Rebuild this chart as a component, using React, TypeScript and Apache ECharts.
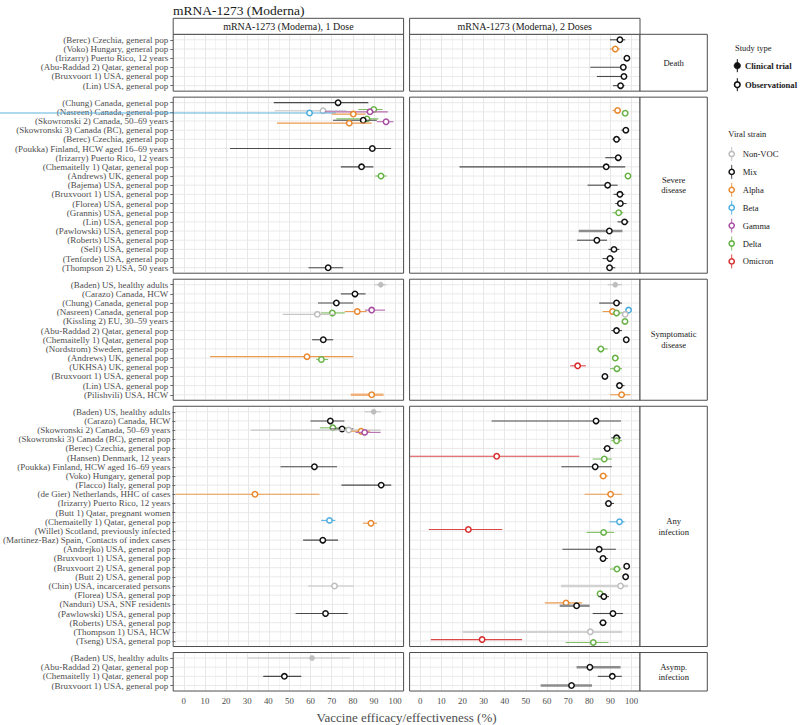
import React, { useEffect, useRef } from "react";
import * as echarts from "echarts";

// ---------------- data ----------------
const chartTitle = "mRNA-1273 (Moderna)";
const doseLabels = ["mRNA-1273 (Moderna), 1 Dose", "mRNA-1273 (Moderna), 2 Doses"];
const outcomeLabels = ["Death", "Severe\ndisease", "Symptomatic\ndisease", "Any\ninfection", "Asymp.\ninfection"];
const strains = ["Non-VOC", "Mix", "Alpha", "Beta", "Gamma", "Delta", "Omicron"];
const studyTypes = ["Clinical trial", "Observational"];
const xTickValues = [0, 10, 20, 30, 40, 50, 60, 70, 80, 90, 100];
const xAxisTitle = "Vaccine efficacy/effectiveness (%)";
const clinicalTrialStudies = ["(Baden) US, healthy adults"];

const deathStudies = [
  "(Berec) Czechia, general pop",
  "(Voko) Hungary, general pop",
  "(Irizarry) Puerto Rico, 12 years",
  "(Abu-Raddad 2) Qatar, general pop",
  "(Bruxvoort 1) USA, general pop",
  "(Lin) USA, general pop",
];
const severeStudies = [
  "(Chung) Canada, general pop",
  "(Nasreen) Canada, general pop",
  "(Skowronski 2) Canada, 50–69 years",
  "(Skowronski 3) Canada (BC), general pop",
  "(Berec) Czechia, general pop",
  "(Poukka) Finland, HCW aged 16–69 years",
  "(Irizarry) Puerto Rico, 12 years",
  "(Chemaitelly 1) Qatar, general pop",
  "(Andrews) UK, general pop",
  "(Bajema) USA, general pop",
  "(Bruxvoort 1) USA, general pop",
  "(Florea) USA, general pop",
  "(Grannis) USA, general pop",
  "(Lin) USA, general pop",
  "(Pawlowski) USA, general pop",
  "(Roberts) USA, general pop",
  "(Self) USA, general pop",
  "(Tenforde) USA, general pop",
  "(Thompson 2) USA, 50 years",
];
const symptomaticStudies = [
  "(Baden) US, healthy adults",
  "(Carazo) Canada, HCW",
  "(Chung) Canada, general pop",
  "(Nasreen) Canada, general pop",
  "(Kissling 2) EU, 30–59 years",
  "(Abu-Raddad 2) Qatar, general pop",
  "(Chemaitelly 1) Qatar, general pop",
  "(Nordstrom) Sweden, general pop",
  "(Andrews) UK, general pop",
  "(UKHSA) UK, general pop",
  "(Bruxvoort 1) USA, general pop",
  "(Lin) USA, general pop",
  "(Pilishvili) USA, HCW",
];
const anyInfectionStudies = [
  "(Baden) US, healthy adults",
  "(Carazo) Canada, HCW",
  "(Skowronski 2) Canada, 50–69 years",
  "(Skowronski 3) Canada (BC), general pop",
  "(Berec) Czechia, general pop",
  "(Hansen) Denmark, 12 years",
  "(Poukka) Finland, HCW aged 16–69 years",
  "(Voko) Hungary, general pop",
  "(Flacco) Italy, general pop",
  "(de Gier) Netherlands, HHC of cases",
  "(Irizarry) Puerto Rico, 12 years",
  "(Butt 1) Qatar, pregnant women",
  "(Chemaitelly 1) Qatar, general pop",
  "(Willet) Scotland, previously infected",
  "(Martinez-Baz) Spain, Contacts of index cases",
  "(Andrejko) USA, general pop",
  "(Bruxvoort 1) USA, general pop",
  "(Bruxvoort 2) USA, general pop",
  "(Butt 2) USA, general pop",
  "(Chin) USA, incarcerated persons",
  "(Florea) USA, general pop",
  "(Nanduri) USA, SNF residents",
  "(Pawlowski) USA, general pop",
  "(Roberts) USA, general pop",
  "(Thompson 1) USA, HCW",
  "(Tseng) USA, general pop",
];
const asympStudies = [
  "(Baden) US, healthy adults",
  "(Abu-Raddad 2) Qatar, general pop",
  "(Chemaitelly 1) Qatar, general pop",
  "(Bruxvoort 1) USA, general pop",
];

type Est = [string, string, number, number, number]; // study, strain, estimate, lower, upper

const death1: Est[] = [];
const death2: Est[] = [
  ["(Berec) Czechia, general pop", "Mix", 94.5, 89.8, 97],
  ["(Voko) Hungary, general pop", "Alpha", 92.3, 89.8, 94.5],
  ["(Irizarry) Puerto Rico, 12 years", "Mix", 97.8, 97, 98.5],
  ["(Abu-Raddad 2) Qatar, general pop", "Mix", 96.1, 80.5, 97.4],
  ["(Bruxvoort 1) USA, general pop", "Mix", 96.4, 83.6, 97.4],
  ["(Lin) USA, general pop", "Mix", 94.8, 91.2, 96.7],
];

const severe1: Est[] = [
  ["(Chung) Canada, general pop", "Mix", 73, 42.6, 87.3],
  ["(Nasreen) Canada, general pop", "Delta", 89.9, 82.6, 94],
  ["(Nasreen) Canada, general pop", "Non-VOC", 65.9, 43, 77],
  ["(Nasreen) Canada, general pop", "Gamma", 88.1, 66.7, 96.5],
  ["(Nasreen) Canada, general pop", "Beta", 59.5, -90, 72],
  ["(Nasreen) Canada, general pop", "Alpha", 80.2, 70, 86],
  ["(Skowronski 2) Canada, 50–69 years", "Delta", 86.7, 72.2, 92.1],
  ["(Skowronski 2) Canada, 50–69 years", "Mix", 84.9, 70.6, 91.3],
  ["(Skowronski 2) Canada, 50–69 years", "Gamma", 95.7, 91.3, 99.2],
  ["(Skowronski 2) Canada, 50–69 years", "Alpha", 78.3, 44.1, 88.9],
  ["(Poukka) Finland, HCW aged 16–69 years", "Mix", 89.2, 21.9, 98.1],
  ["(Chemaitelly 1) Qatar, general pop", "Mix", 84.1, 74.3, 89.7],
  ["(Andrews) UK, general pop", "Delta", 93.3, 90.5, 96],
  ["(Thompson 2) USA, 50 years", "Mix", 68.3, 59, 75.4],
];
const severe2: Est[] = [
  ["(Nasreen) Canada, general pop", "Alpha", 93.4, 91, 95],
  ["(Nasreen) Canada, general pop", "Delta", 97, 96, 98],
  ["(Skowronski 3) Canada (BC), general pop", "Mix", 97.3, 95.2, 98.3],
  ["(Berec) Czechia, general pop", "Mix", 92.9, 91, 95],
  ["(Irizarry) Puerto Rico, 12 years", "Mix", 93.7, 87.6, 95.5],
  ["(Chemaitelly 1) Qatar, general pop", "Mix", 88, 18.6, 97],
  ["(Andrews) UK, general pop", "Delta", 98.3, 97.5, 99],
  ["(Bajema) USA, general pop", "Mix", 88.7, 79.2, 93.4],
  ["(Bruxvoort 1) USA, general pop", "Mix", 94.5, 91.5, 96.6],
  ["(Florea) USA, general pop", "Mix", 94.7, 92.3, 97.6],
  ["(Grannis) USA, general pop", "Delta", 93.9, 91, 96.1],
  ["(Lin) USA, general pop", "Mix", 96.7, 93.4, 98.6],
  ["(Pawlowski) USA, general pop", "Mix", 89.5, 75, 95.7],
  ["(Roberts) USA, general pop", "Mix", 83.6, 74.2, 88.4],
  ["(Self) USA, general pop", "Mix", 91.7, 89.1, 94.2],
  ["(Tenforde) USA, general pop", "Mix", 89.8, 86.3, 91.8],
  ["(Thompson 2) USA, 50 years", "Mix", 89.6, 88.7, 92.3],
];

const symptomatic1: Est[] = [
  ["(Baden) US, healthy adults", "Non-VOC", 93.2, 90.2, 96],
  ["(Carazo) Canada, HCW", "Mix", 81, 74.3, 86],
  ["(Chung) Canada, general pop", "Mix", 72.2, 63.5, 80.2],
  ["(Nasreen) Canada, general pop", "Gamma", 88.9, 85.7, 95.2],
  ["(Nasreen) Canada, general pop", "Alpha", 82.1, 76.2, 86.5],
  ["(Nasreen) Canada, general pop", "Delta", 70.3, 65, 76.2],
  ["(Nasreen) Canada, general pop", "Non-VOC", 63.2, 46.8, 71.4],
  ["(Chemaitelly 1) Qatar, general pop", "Mix", 66, 60.7, 70.7],
  ["(Andrews) UK, general pop", "Alpha", 58.3, 12.4, 80.2],
  ["(Andrews) UK, general pop", "Delta", 65.1, 62.7, 68.3],
  ["(Pilishvili) USA, HCW", "Alpha", 88.9, 79, 94.5],
];
const symptomatic2: Est[] = [
  ["(Baden) US, healthy adults", "Non-VOC", 92.3, 88.7, 95.5],
  ["(Chung) Canada, general pop", "Mix", 92.9, 84.7, 95.5],
  ["(Nasreen) Canada, general pop", "Beta", 98.6, 97.5, 99.3],
  ["(Nasreen) Canada, general pop", "Alpha", 91, 86.3, 92.9],
  ["(Nasreen) Canada, general pop", "Delta", 92.9, 91, 96],
  ["(Nasreen) Canada, general pop", "Non-VOC", 97, 96, 98],
  ["(Kissling 2) EU, 30–59 years", "Delta", 96.9, 96, 97.8],
  ["(Abu-Raddad 2) Qatar, general pop", "Mix", 92.9, 90.5, 95.5],
  ["(Chemaitelly 1) Qatar, general pop", "Mix", 97.5, 97, 98],
  ["(Nordstrom) Sweden, general pop", "Delta", 85.5, 83.5, 88.7],
  ["(Andrews) UK, general pop", "Delta", 92.3, 91, 94],
  ["(UKHSA) UK, general pop", "Omicron", 74.5, 71, 78.4],
  ["(UKHSA) UK, general pop", "Delta", 93.1, 89.8, 95.5],
  ["(Bruxvoort 1) USA, general pop", "Mix", 87.4, 86.5, 88.3],
  ["(Lin) USA, general pop", "Mix", 94.3, 92.6, 96.7],
  ["(Pilishvili) USA, HCW", "Alpha", 95.3, 89.9, 99.5],
];

const anyInfection1: Est[] = [
  ["(Baden) US, healthy adults", "Non-VOC", 89.7, 85.4, 93.3],
  ["(Carazo) Canada, HCW", "Mix", 69, 59.5, 75.7],
  ["(Skowronski 2) Canada, 50–69 years", "Delta", 70.2, 64, 77],
  ["(Skowronski 2) Canada, 50–69 years", "Mix", 74.6, 69, 80],
  ["(Skowronski 2) Canada, 50–69 years", "Non-VOC", 77.8, 31, 93],
  ["(Skowronski 2) Canada, 50–69 years", "Alpha", 83.7, 79, 88],
  ["(Skowronski 2) Canada, 50–69 years", "Gamma", 85.4, 81, 93],
  ["(Poukka) Finland, HCW aged 16–69 years", "Mix", 61.4, 45.2, 72.2],
  ["(Flacco) Italy, general pop", "Mix", 93.3, 74.3, 98.1],
  ["(de Gier) Netherlands, HHC of cases", "Alpha", 33, -5, 63.8],
  ["(Chemaitelly 1) Qatar, general pop", "Beta", 68.6, 64.6, 71.4],
  ["(Chemaitelly 1) Qatar, general pop", "Alpha", 88.4, 84.5, 91.3],
  ["(Martinez-Baz) Spain, Contacts of index cases", "Mix", 65.4, 56, 72.7],
  ["(Chin) USA, incarcerated persons", "Non-VOC", 71, 58.4, 80.2],
  ["(Pawlowski) USA, general pop", "Mix", 66.7, 52.4, 77.3],
];
const anyInfection2: Est[] = [
  ["(Carazo) Canada, HCW", "Mix", 83.2, 33.8, 95],
  ["(Skowronski 3) Canada (BC), general pop", "Mix", 92.9, 90.4, 95],
  ["(Skowronski 3) Canada (BC), general pop", "Delta", 92.9, 90.4, 95.5],
  ["(Berec) Czechia, general pop", "Mix", 88.5, 86.6, 91.4],
  ["(Hansen) Denmark, 12 years", "Omicron", 36.2, -5, 75.3],
  ["(Hansen) Denmark, 12 years", "Delta", 87.1, 81.6, 90.7],
  ["(Poukka) Finland, HCW aged 16–69 years", "Mix", 82.8, 66.8, 90.7],
  ["(Voko) Hungary, general pop", "Alpha", 86.6, 84.7, 88.7],
  ["(de Gier) Netherlands, HHC of cases", "Alpha", 90.1, 77.8, 95.5],
  ["(Irizarry) Puerto Rico, 12 years", "Mix", 89.1, 87.4, 91.7],
  ["(Chemaitelly 1) Qatar, general pop", "Beta", 94.3, 89.5, 96.7],
  ["(Willet) Scotland, previously infected", "Omicron", 22.8, 4.1, 38.8],
  ["(Willet) Scotland, previously infected", "Delta", 86.8, 78.7, 91.7],
  ["(Andrejko) USA, general pop", "Mix", 84.7, 67.3, 92.6],
  ["(Bruxvoort 1) USA, general pop", "Mix", 86.5, 85, 88.8],
  ["(Bruxvoort 2) USA, general pop", "Mix", 97.7, 97, 98.3],
  ["(Bruxvoort 2) USA, general pop", "Delta", 93.1, 89.8, 95.1],
  ["(Butt 2) USA, general pop", "Mix", 97.2, 96.5, 97.8],
  ["(Chin) USA, incarcerated persons", "Non-VOC", 94.8, 66.6, 98.3],
  ["(Florea) USA, general pop", "Delta", 85.1, 84, 87],
  ["(Florea) USA, general pop", "Mix", 86.9, 84.4, 89.3],
  ["(Nanduri) USA, SNF residents", "Alpha", 69, 59, 76.6],
  ["(Nanduri) USA, SNF residents", "Mix", 74, 66, 80.2],
  ["(Pawlowski) USA, general pop", "Mix", 91.2, 81.6, 95.9],
  ["(Roberts) USA, general pop", "Mix", 86.5, 84.7, 88.2],
  ["(Thompson 1) USA, HCW", "Non-VOC", 80.5, 20.1, 95.5],
  ["(Tseng) USA, general pop", "Omicron", 29.3, 5, 48.2],
  ["(Tseng) USA, general pop", "Delta", 81.9, 68.8, 89.1],
];

const asymp1: Est[] = [
  ["(Baden) US, healthy adults", "Non-VOC", 60.7, 30.2, 78.6],
  ["(Chemaitelly 1) Qatar, general pop", "Mix", 47.6, 37.6, 55.6],
];
const asymp2: Est[] = [
  ["(Abu-Raddad 2) Qatar, general pop", "Mix", 80.3, 74, 94.8],
  ["(Chemaitelly 1) Qatar, general pop", "Mix", 90.9, 84, 95.4],
  ["(Bruxvoort 1) USA, general pop", "Mix", 71.6, 57, 81.3],
];

// intervals drawn with a heavier stroke: [outcome index, dose index, study, strain]
const heavyIntervals: [number, number, string, string][] = [
  [1, 1, "(Pawlowski) USA, general pop", "Mix"],
  [2, 0, "(Pilishvili) USA, HCW", "Alpha"],
  [3, 1, "(Chin) USA, incarcerated persons", "Non-VOC"],
  [3, 1, "(Nanduri) USA, SNF residents", "Mix"],
  [3, 1, "(Thompson 1) USA, HCW", "Non-VOC"],
  [4, 1, "(Abu-Raddad 2) Qatar, general pop", "Mix"],
  [4, 1, "(Bruxvoort 1) USA, general pop", "Mix"],
];

const rowsByOutcome = [deathStudies, severeStudies, symptomaticStudies, anyInfectionStudies, asympStudies];
const estimatesByPanel = [
  [death1, death2],
  [severe1, severe2],
  [symptomatic1, symptomatic2],
  [anyInfection1, anyInfection2],
  [asymp1, asymp2],
];

// ---------------- styles ----------------
const FONT = '"Liberation Serif", "DejaVu Serif", serif';
const strainColors = ["#bdbdbd", "#111111", "#e8862b", "#48abdf", "#a64d9f", "#66b245", "#d62a2a"];
const strainLineColors = ["#c6c6c6", "#4a4a4a", "#eb9a4e", "#5cb3e2", "#b46aae", "#80c063", "#dc4848"];
const heavyLineColors = ["#d2d2d2", "#8c8c8c", "#f0b27a", "#8fcbec", "#c58ec0", "#a2d18c", "#e58080"];

const U = 9.17; // px per row unit
const GAP = 6;
const TOP0 = 34.3;
const PANEL_X = [173.2, 409.6];
const PANEL_W = 230.4;
const STRIP_X = 640;
const STRIP_W = 67.3;
const X_MIN = -5;
const X_MAX = 104;
const DODGE = 0.62;

function buildOption() {
  const tops: number[] = [];
  const heights: number[] = [];
  let y = TOP0;
  rowsByOutcome.forEach((rows) => {
    const h = (rows.length + 0.2) * U;
    tops.push(y);
    heights.push(h);
    y += h + GAP;
  });

  const grids: any[] = [];
  const xAxes: any[] = [];
  const yAxes: any[] = [];
  const series: any[] = [];
  const graphics: any[] = [];

  const gridLineRender = (params: any, api: any) => {
    const yy = api.coord([0, api.value(1)])[1];
    const cs = params.coordSys;
    return {
      type: "line",
      shape: { x1: cs.x, y1: yy, x2: cs.x + cs.width, y2: yy },
      style: { stroke: "#e6e6e6", lineWidth: 0.9 },
      silent: true,
    };
  };

  const estimateRender = (params: any, api: any) => {
    const est = api.value(0);
    const row = api.value(1);
    const lo = api.value(2);
    const hi = api.value(3);
    const off = api.value(4);
    const s = api.value(5);
    const ct = api.value(6);
    const heavy = api.value(7);
    const band = api.size([0, 1])[1];
    const pc = api.coord([est, row]);
    const yy = pc[1] + off * band;
    const xl = api.coord([lo, row])[0];
    const xh = api.coord([hi, row])[0];
    const lineColor = heavy ? heavyLineColors[s] : strainLineColors[s];
    const point = ct
      ? { type: "circle", shape: { cx: pc[0], cy: yy, r: 2.6 }, style: { fill: strainColors[s], stroke: strainColors[s], lineWidth: 0.5 } }
      : { type: "circle", shape: { cx: pc[0], cy: yy, r: 2.7 }, style: { fill: "#ffffff", stroke: strainColors[s], lineWidth: 1.5 } };
    return {
      type: "group",
      children: [
        { type: "line", shape: { x1: xl, y1: yy, x2: xh, y2: yy }, style: { stroke: lineColor, lineWidth: heavy ? 2.4 : 1.1 } },
        point,
      ],
    };
  };

  rowsByOutcome.forEach((rows, o) => {
    [0, 1].forEach((d) => {
      const g = o * 2 + d;
      grids.push({
        left: PANEL_X[d],
        top: tops[o] + 0.1 * U,
        width: PANEL_W,
        height: rows.length * U,
        containLabel: false,
        show: true,
        backgroundColor: "#ffffff",
        borderWidth: 0,
      });
      xAxes.push({
        type: "value",
        gridIndex: g,
        min: X_MIN,
        max: X_MAX,
        interval: 5,
        axisLine: { show: false, onZero: false },
        axisTick: { show: false },
        axisLabel: {
          show: o === rowsByOutcome.length - 1,
          formatter: (v: number) => (xTickValues.indexOf(v) >= 0 ? String(v) : ""),
          color: "#4d4d4d",
          fontFamily: FONT,
          fontSize: 8.8,
          margin: 6,
        },
        splitLine: { show: true, lineStyle: { color: ["#f3f3f3", "#e4e4e4"], width: 0.9 } },
      });
      yAxes.push({
        type: "category",
        gridIndex: g,
        data: rows,
        inverse: true,
        position: "left",
        axisLine: { show: false, onZero: false },
        axisTick: { show: d === 0, alignWithLabel: true, length: 3, interval: 0, lineStyle: { color: "#4d4d4d", width: 0.8 } },
        axisLabel: { show: d === 0, interval: 0, color: "#4d4d4d", fontFamily: FONT, fontSize: 9, margin: 5 },
        splitLine: { show: false },
      });
      series.push({
        type: "custom",
        xAxisIndex: g,
        yAxisIndex: g,
        renderItem: gridLineRender,
        data: rows.map((_, i) => [0, i]),
        encode: { x: 0, y: 1 },
        silent: true,
        z: 1,
      });

      const ests = estimatesByPanel[o][d];
      const counts: Record<string, number> = {};
      ests.forEach((e) => (counts[e[0]] = (counts[e[0]] || 0) + 1));
      const seen: Record<string, number> = {};
      const data = ests.map((e) => {
        const n = counts[e[0]];
        const k = seen[e[0]] || 0;
        seen[e[0]] = k + 1;
        const off = (k - (n - 1) / 2) * (DODGE / n);
        const s = strains.indexOf(e[1]);
        const ct = clinicalTrialStudies.indexOf(e[0]) >= 0 ? 1 : 0;
        const heavy = heavyIntervals.some((h) => h[0] === o && h[1] === d && h[2] === e[0] && h[3] === e[1]) ? 1 : 0;
        return [e[2], rows.indexOf(e[0]), e[3], e[4], off, s, ct, heavy];
      });
      series.push({
        type: "custom",
        xAxisIndex: g,
        yAxisIndex: g,
        renderItem: estimateRender,
        data,
        encode: { x: [0, 2, 3], y: 1 },
        clip: false,
        silent: true,
        z: 3,
      });

      // panel border
      graphics.push({
        type: "rect",
        shape: { x: PANEL_X[d], y: tops[o], width: PANEL_W, height: heights[o] },
        style: { fill: "none", stroke: "#4d4d4d", lineWidth: 1 },
        silent: true,
        z: 50,
      });
    });
    // row strip
    graphics.push({
      type: "rect",
      shape: { x: STRIP_X, y: tops[o], width: STRIP_W, height: heights[o] },
      style: { fill: "#ffffff", stroke: "#4d4d4d", lineWidth: 1 },
      silent: true,
      z: 50,
    });
    graphics.push({
      type: "text",
      x: STRIP_X + STRIP_W / 2,
      y: tops[o] + heights[o] / 2,
      style: {
        text: outcomeLabels[o],
        font: `8.6px ${FONT}`,
        fill: "#1a1a1a",
        textAlign: "center",
        textVerticalAlign: "middle",
        lineHeight: 10.5,
      },
      silent: true,
      z: 51,
    });
  });

  // column strips
  [0, 1].forEach((d) => {
    graphics.push({
      type: "rect",
      shape: { x: PANEL_X[d], y: 18.3, width: PANEL_W, height: TOP0 - 18.3 },
      style: { fill: "#ffffff", stroke: "#4d4d4d", lineWidth: 1 },
      silent: true,
      z: 50,
    });
    graphics.push({
      type: "text",
      x: PANEL_X[d] + PANEL_W / 2,
      y: (18.3 + TOP0) / 2,
      style: { text: doseLabels[d], font: `10px ${FONT}`, fill: "#1a1a1a", textAlign: "center", textVerticalAlign: "middle" },
      silent: true,
      z: 51,
    });
  });

  // title
  graphics.push({
    type: "text",
    x: 173,
    y: 10,
    style: { text: chartTitle, font: `13.5px ${FONT}`, fill: "#1a1a1a", textAlign: "left", textVerticalAlign: "middle" },
    silent: true,
  });
  // x axis title
  graphics.push({
    type: "text",
    x: (PANEL_X[0] + PANEL_X[1] + PANEL_W) / 2,
    y: 717,
    style: { text: xAxisTitle, font: `13px ${FONT}`, fill: "#4d4d4d", textAlign: "center", textVerticalAlign: "middle" },
    silent: true,
  });

  // legend: study type
  graphics.push({
    type: "text",
    x: 735,
    y: 48.3,
    style: { text: "Study type", font: `8.5px ${FONT}`, fill: "#1a1a1a", textAlign: "left", textVerticalAlign: "middle" },
    silent: true,
  });
  const stY = [65.7, 84.7];
  studyTypes.forEach((t, i) => {
    const cx = 737.3;
    graphics.push({ type: "line", shape: { x1: cx, y1: stY[i] - 6.5, x2: cx, y2: stY[i] + 6.5 }, style: { stroke: "#111", lineWidth: 1 }, silent: true });
    graphics.push({
      type: "circle",
      shape: { cx, cy: stY[i], r: i === 0 ? 3.3 : 2.8 },
      style: i === 0 ? { fill: "#111", stroke: "#111", lineWidth: 0.5 } : { fill: "#fff", stroke: "#111", lineWidth: 1.6 },
      silent: true,
      z: 2,
    });
    graphics.push({
      type: "text",
      x: 745,
      y: stY[i],
      style: { text: t, font: `bold 8.6px ${FONT}`, fill: "#1a1a1a", textAlign: "left", textVerticalAlign: "middle" },
      silent: true,
    });
  });

  // legend: viral strain
  graphics.push({
    type: "text",
    x: 728.3,
    y: 134,
    style: { text: "Viral strain", font: `8.5px ${FONT}`, fill: "#1a1a1a", textAlign: "left", textVerticalAlign: "middle" },
    silent: true,
  });
  strains.forEach((s, i) => {
    const cy = 154 + i * 17.9;
    const cx = 731.7;
    graphics.push({ type: "line", shape: { x1: cx, y1: cy - 7, x2: cx, y2: cy + 7 }, style: { stroke: strainLineColors[i], lineWidth: 1 }, silent: true });
    graphics.push({
      type: "circle",
      shape: { cx, cy, r: 2.6 },
      style: { fill: "#fff", stroke: strainColors[i], lineWidth: 1.5 },
      silent: true,
      z: 2,
    });
    graphics.push({
      type: "text",
      x: 742.7,
      y: cy,
      style: { text: s, font: `8.6px ${FONT}`, fill: "#1a1a1a", textAlign: "left", textVerticalAlign: "middle" },
      silent: true,
    });
  });

  return {
    animation: false,
    backgroundColor: "#ffffff",
    grid: grids,
    xAxis: xAxes,
    yAxis: yAxes,
    series,
    graphic: { elements: graphics },
  };
}

export default function App() {
  const ref = useRef<HTMLDivElement>(null);
  useEffect(() => {
    document.body.style.margin = "0";
    if (!ref.current) return;
    const chart = echarts.init(ref.current, undefined, { renderer: "svg" });
    chart.setOption(buildOption() as any);
    return () => chart.dispose();
  }, []);
  return <div ref={ref} style={{ width: 800, height: 725 }} />;
}
